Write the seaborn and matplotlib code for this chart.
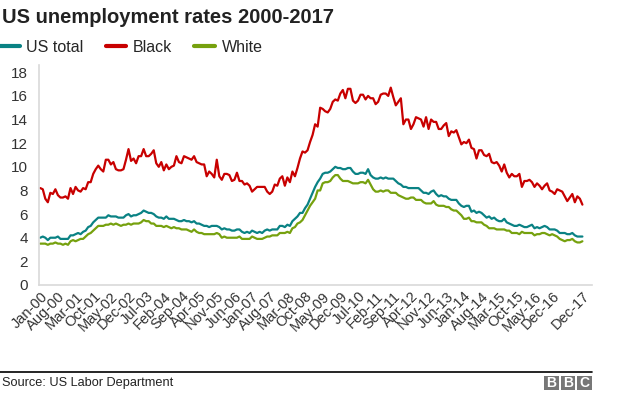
import numpy as np
import pandas as pd
import seaborn as sns
import matplotlib.pyplot as plt
from matplotlib.patches import Rectangle
from matplotlib.lines import Line2D

# monthly rates, Jan 2000 - Dec 2017 (one row per year)
us_total = [
    4.0, 4.1, 4.0, 3.8, 4.0, 4.0, 4.0, 4.1, 3.9, 3.9, 3.9, 3.9,
    4.2, 4.2, 4.3, 4.4, 4.3, 4.5, 4.6, 4.9, 5.0, 5.3, 5.5, 5.7,
    5.7, 5.7, 5.7, 5.9, 5.8, 5.8, 5.8, 5.7, 5.7, 5.7, 5.9, 6.0,
    5.8, 5.9, 5.9, 6.0, 6.1, 6.3, 6.2, 6.1, 6.1, 6.0, 5.8, 5.7,
    5.7, 5.6, 5.8, 5.6, 5.6, 5.6, 5.5, 5.4, 5.4, 5.5, 5.4, 5.4,
    5.3, 5.4, 5.2, 5.2, 5.1, 5.0, 5.0, 4.9, 5.0, 5.0, 5.0, 4.9,
    4.7, 4.8, 4.7, 4.7, 4.6, 4.6, 4.7, 4.7, 4.5, 4.4, 4.5, 4.4,
    4.6, 4.5, 4.4, 4.5, 4.4, 4.6, 4.7, 4.6, 4.7, 4.7, 4.7, 5.0,
    5.0, 4.9, 5.1, 5.0, 5.4, 5.6, 5.8, 6.1, 6.1, 6.5, 6.8, 7.3,
    7.8, 8.3, 8.7, 9.0, 9.4, 9.5, 9.5, 9.6, 9.8, 10.0, 9.9, 9.9,
    9.8, 9.8, 9.9, 9.9, 9.6, 9.4, 9.4, 9.5, 9.5, 9.4, 9.8, 9.3,
    9.1, 9.0, 9.0, 9.1, 9.0, 9.1, 9.0, 9.0, 9.0, 8.8, 8.6, 8.5,
    8.3, 8.3, 8.2, 8.2, 8.2, 8.2, 8.2, 8.0, 7.8, 7.8, 7.7, 7.9,
    8.0, 7.7, 7.5, 7.6, 7.5, 7.5, 7.3, 7.2, 7.2, 7.2, 6.9, 6.7,
    6.6, 6.7, 6.7, 6.2, 6.3, 6.1, 6.2, 6.1, 5.9, 5.7, 5.8, 5.6,
    5.7, 5.5, 5.4, 5.4, 5.6, 5.3, 5.2, 5.1, 5.0, 5.0, 5.1, 5.0,
    4.9, 4.9, 5.0, 5.1, 4.8, 4.9, 4.8, 4.9, 5.0, 4.9, 4.7, 4.7,
    4.7, 4.6, 4.4, 4.4, 4.4, 4.3, 4.3, 4.4, 4.2, 4.1, 4.1, 4.1,
]

black = [
    8.2, 8.1, 7.3, 7.0, 7.8, 7.7, 8.1, 7.6, 7.4, 7.4, 7.5, 7.3,
    8.2, 7.7, 8.3, 8.0, 7.9, 8.2, 8.1, 8.7, 8.7, 9.4, 9.8, 10.1,
    9.8, 9.6, 10.6, 10.6, 10.2, 10.4, 9.8, 9.7, 9.7, 9.8, 10.6, 11.5,
    10.5, 10.7, 10.3, 10.9, 10.9, 11.5, 10.9, 10.9, 11.1, 11.4, 10.3, 10.0,
    10.4, 9.7, 10.2, 9.8, 10.0, 10.1, 10.9, 10.4, 10.3, 10.9, 10.8, 10.7,
    10.6, 10.9, 10.4, 10.3, 10.2, 10.2, 9.2, 9.6, 9.4, 9.1, 10.6, 9.2,
    8.9, 9.4, 9.4, 9.3, 8.8, 8.9, 9.5, 8.8, 8.8, 8.5, 8.6, 8.4,
    7.9, 8.1, 8.3, 8.3, 8.3, 8.3, 7.9, 7.7, 7.9, 8.5, 8.4, 9.0,
    9.2, 8.4, 9.1, 8.7, 9.6, 9.2, 9.9, 10.7, 11.3, 11.2, 11.4, 12.1,
    12.7, 13.6, 13.4, 15.0, 14.9, 14.7, 14.6, 14.9, 15.5, 15.7, 15.6, 16.2,
    16.5, 15.8, 16.6, 16.6, 15.6, 15.4, 15.6, 16.1, 16.1, 15.7, 16.0, 15.8,
    15.8, 15.3, 15.5, 16.1, 16.2, 16.2, 16.0, 16.7, 15.9, 15.2, 15.5, 15.8,
    13.6, 14.0, 14.0, 13.2, 13.6, 14.2, 14.1, 14.0, 13.4, 14.2, 13.2, 14.0,
    13.8, 13.8, 13.2, 13.2, 13.5, 13.7, 12.6, 13.0, 12.9, 13.1, 12.5, 11.9,
    12.1, 12.0, 12.3, 11.6, 11.5, 10.7, 11.4, 11.4, 11.0, 10.9, 11.1, 10.4,
    10.3, 10.4, 10.1, 9.6, 10.2, 9.5, 9.1, 9.4, 9.2, 9.2, 9.4, 8.3,
    8.8, 8.8, 8.9, 8.7, 8.3, 8.6, 8.4, 8.1, 8.4, 8.6, 8.0, 7.9,
    7.7, 8.1, 8.0, 7.9, 7.5, 7.1, 7.4, 7.7, 7.0, 7.5, 7.3, 6.8,
]

white = [
    3.5, 3.5, 3.5, 3.4, 3.5, 3.5, 3.6, 3.5, 3.5, 3.4, 3.5, 3.4,
    3.7, 3.8, 3.7, 3.8, 3.9, 3.9, 4.1, 4.3, 4.4, 4.6, 4.8, 5.0,
    5.0, 5.0, 5.1, 5.1, 5.2, 5.1, 5.2, 5.1, 5.0, 5.1, 5.1, 5.2,
    5.1, 5.2, 5.2, 5.2, 5.3, 5.5, 5.4, 5.4, 5.2, 5.2, 5.0, 5.0,
    5.0, 4.9, 5.0, 4.9, 4.8, 4.9, 4.8, 4.8, 4.7, 4.7, 4.7, 4.6,
    4.5, 4.7, 4.5, 4.4, 4.4, 4.3, 4.3, 4.3, 4.3, 4.3, 4.4, 4.3,
    4.0, 4.1, 4.0, 4.0, 4.0, 4.0, 4.0, 4.1, 3.9, 3.9, 3.9, 3.9,
    4.1, 4.0, 3.9, 3.9, 3.9, 4.0, 4.1, 4.1, 4.2, 4.2, 4.2, 4.4,
    4.4, 4.4, 4.5, 4.4, 4.8, 4.9, 5.2, 5.3, 5.5, 5.9, 6.3, 6.7,
    7.0, 7.3, 8.0, 8.0, 8.6, 8.7, 8.7, 8.8, 9.1, 9.3, 9.3, 9.0,
    8.8, 8.8, 8.8, 8.7, 8.6, 8.6, 8.6, 8.7, 8.7, 8.6, 8.9, 8.5,
    8.1, 7.9, 7.9, 8.0, 7.9, 8.0, 8.0, 7.8, 7.8, 7.8, 7.6, 7.5,
    7.4, 7.3, 7.3, 7.4, 7.4, 7.2, 7.2, 7.2, 7.0, 6.9, 6.9, 6.9,
    7.1, 6.8, 6.7, 6.7, 6.7, 6.6, 6.6, 6.4, 6.3, 6.3, 6.1, 5.9,
    5.6, 5.6, 5.7, 5.4, 5.4, 5.3, 5.3, 5.3, 5.1, 5.0, 4.8, 4.8,
    4.8, 4.7, 4.7, 4.7, 4.7, 4.6, 4.6, 4.4, 4.4, 4.4, 4.3, 4.5,
    4.4, 4.4, 4.4, 4.4, 4.2, 4.3, 4.3, 4.4, 4.4, 4.3, 4.2, 4.3,
    4.2, 4.1, 3.9, 3.8, 3.7, 3.8, 3.8, 3.9, 3.7, 3.6, 3.6, 3.7,
]

months = pd.date_range("2000-01-01", "2017-12-01", freq="MS")
month_labels = months.strftime("%b-%y")
series_names = ["US total", "Black", "White"]
colors = ["#0a8284", "#c80000", "#76a10e"]

df = pd.DataFrame({"idx": np.arange(len(months)),
                   "US total": us_total, "Black": black, "White": white})
long_df = df.melt(id_vars="idx", var_name="group", value_name="rate")

sns.set_style("white")
plt.rcParams["font.family"] = ["Liberation Sans", "DejaVu Sans"]

fig = plt.figure(figsize=(6.24, 3.95), dpi=100)
ax = fig.add_axes([0.0625, 0.2785, 0.887, 0.5565])

sns.lineplot(data=long_df, x="idx", y="rate", hue="group",
             hue_order=series_names, palette=colors, linewidth=1.6,
             legend=False, ax=ax)

ax.set_xlim(-0.5, 219)
ax.set_ylim(0, 18.6)
ax.set_yticks(range(0, 19, 2))
ax.tick_params(axis="y", labelsize=11, colors="#333333", length=0, pad=8)

tick_pos = list(range(0, len(months) - 6, 7)) + [len(months) - 1]
ax.set_xticks(tick_pos)
ax.set_xticklabels([month_labels[i] for i in tick_pos], rotation=45,
                   ha="right", rotation_mode="anchor", fontsize=10.5,
                   color="#333333")
ax.tick_params(axis="x", length=0, pad=3)
ax.set_xlabel("")
ax.set_ylabel("")

for side in ["top", "right"]:
    ax.spines[side].set_visible(False)
for side in ["left", "bottom"]:
    ax.spines[side].set_color("#d9d9d9")
    ax.spines[side].set_linewidth(1.2)

# title and legend
fig.text(0.003, 0.955, "US unemployment rates 2000-2017", fontsize=14.5,
         fontweight="bold", color="#222222", va="center")
handles = [Line2D([0], [0], color=c, lw=3) for c in colors]
fig.legend(handles, series_names, loc="center left",
           bbox_to_anchor=(-0.012, 0.88), ncol=3, frameon=False,
           fontsize=11.5, handlelength=1.3, columnspacing=1.4,
           handletextpad=0.4, borderaxespad=0)

# footer
fig.add_artist(Line2D([0, 0.949], [0.059, 0.059], color="black", lw=1.2,
                      transform=fig.transFigure))
fig.text(0.003, 0.03, "Source: US Labor Department", fontsize=9.2,
         color="#222222", va="center")
for i, letter in enumerate("BBC"):
    x0 = 0.872 + i * 0.0266
    fig.add_artist(Rectangle((x0, 0.0127), 0.0232, 0.0355, color="#777777",
                             lw=0, transform=fig.transFigure))
    fig.text(x0 + 0.0116, 0.0305, letter, fontsize=10, fontweight="bold",
             color="white", ha="center", va="center")

fig.savefig("out.png", dpi=100)
